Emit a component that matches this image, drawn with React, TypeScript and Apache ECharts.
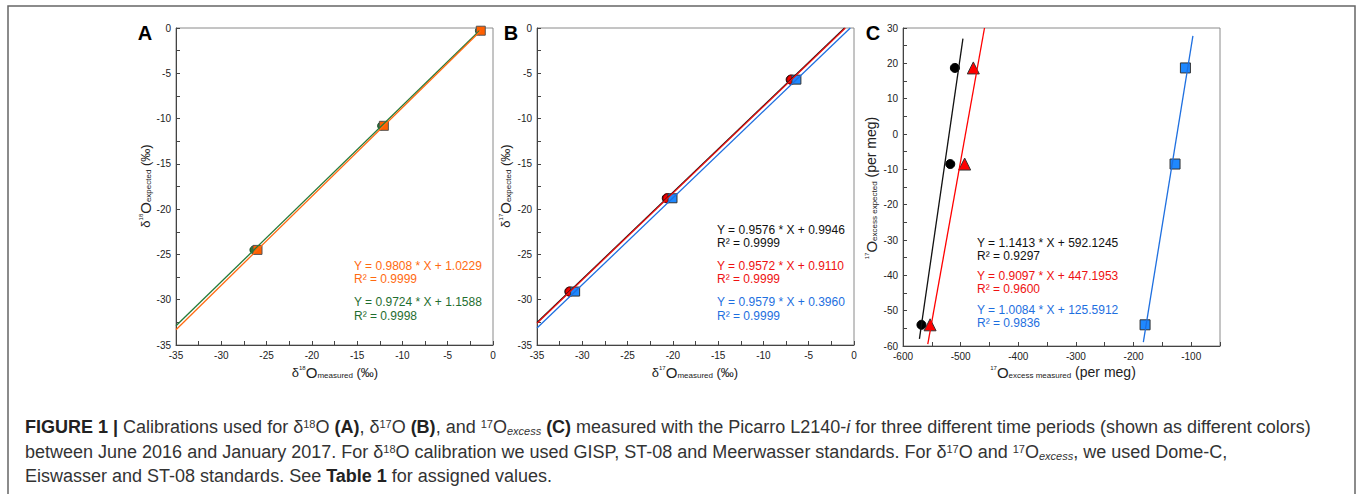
import React, { useEffect, useRef } from "react";
import * as echarts from "echarts";

// ---------- data ----------
// Panel A (δ18O)
const aOrangePts = [[-1.35, -0.3], [-12.05, -10.8], [-26.0, -24.5]];
const aGreenPts = [[-1.5, -0.3], [-12.3, -10.8], [-26.4, -24.5]];
const aOrangeLine = [[-35, -33.31], [-1.35, -0.3]];
const aGreenLine = [[-35, -32.88], [-1.5, -0.3]];
// Panel B (δ17O)
const bBlackPts = [[-6.99, -5.7], [-20.67, -18.8], [-31.43, -29.1]];
const bRedPts = [[-6.91, -5.7], [-20.59, -18.8], [-31.35, -29.1]];
const bBluePts = [[-6.36, -5.7], [-20.04, -18.8], [-30.79, -29.1]];
const bBlackLine = [[-35, -32.52], [-1.04, 0]];
const bRedLine = [[-35, -32.59], [-0.95, 0]];
const bBlueLine = [[-35, -33.13], [-0.41, 0]];
// Panel C (17O excess)
const cBlackPts = [[-568, -54], [-518, -8.5], [-510, 18.7]];
const cRedPts = [[-553, -54], [-493, -8.5], [-478, 18.7]];
const cBluePts = [[-180, -54], [-128, -8.5], [-110, 18.7]];
const cBlackLine = [[-571.5, -58], [-496, 27]];
const cRedLine = [[-557, -59.5], [-458.6, 30]];
const cBlueLine = [[-183, -58.9], [-97, 27.8]];

const aEquations = ["Y = 0.9808 * X + 1.0229", "R² = 0.9999", "Y = 0.9724 * X + 1.1588", "R² = 0.9998"];
const bEquations = ["Y = 0.9576 * X + 0.9946", "R² = 0.9999", "Y = 0.9572 * X + 0.9110", "R² = 0.9999", "Y = 0.9579 * X + 0.3960", "R² = 0.9999"];
const cEquations = ["Y = 1.1413 * X + 592.1245", "R² = 0.9297", "Y = 0.9097 * X + 447.1953", "R² = 0.9600", "Y = 1.0084 * X + 125.5912", "R² = 0.9836"];

const captionLines = [
  "{b|FIGURE 1 |} Calibrations used for δ{sup|18}O {b|(A)}, δ{sup|17}O {b|(B)}, and {sup|17}O{subi|excess} {b|(C)} measured with the Picarro L2140-{i|i} for three different time periods (shown as different colors)",
  "between June 2016 and January 2017. For δ{sup|18}O calibration we used GISP, ST-08 and Meerwasser standards. For δ{sup|17}O and {sup|17}O{subi|excess}, we used Dome-C,",
  "Eiswasser and ST-08 standards. See {b|Table 1} for assigned values.",
];

const ORANGE = "#ff6a10";
const GREEN = "#1f6e30";
const RED = "#ee1111";
const BLUE = "#1e6fe0";
const BLACK = "#111111";
const FONT = "Liberation Sans, Arial, sans-serif";
const CAP = 18;

export default function App() {
  const ref = useRef<HTMLDivElement>(null);
  useEffect(() => {
    if (!ref.current) return;
    const chart = echarts.init(ref.current, undefined, { renderer: "svg" });

    const grids = [
      { left: 176, top: 28, width: 317, height: 317 },
      { left: 537, top: 28, width: 317, height: 317 },
      { left: 903, top: 28, width: 317, height: 318 },
    ].map((g) => ({ ...g, show: true, borderColor: "#8a8a8a", borderWidth: 1, backgroundColor: "transparent" }));

    const axisCommon = (min: number, max: number, interval: number, labelStep: number, gridIndex: number) => ({
      type: "value",
      gridIndex,
      min,
      max,
      interval,
      splitLine: { show: false },
      axisLine: { show: true, onZero: false, lineStyle: { color: "#444", width: 1 } },
      axisTick: { show: true, inside: true, length: 4, lineStyle: { color: "#444" } },
      axisLabel: {
        fontSize: 10,
        color: "#222",
        fontFamily: FONT,
        margin: 5,
        formatter: (v: number) => (Math.abs(v % labelStep) < 1e-9 ? String(v) : ""),
      },
    });

    const xAxis = [axisCommon(-35, 0, 2.5, 5, 0), axisCommon(-35, 0, 2.5, 5, 1), axisCommon(-600, -50, 50, 100, 2)];
    const yAxis = [axisCommon(-35, 0, 2.5, 5, 0), axisCommon(-35, 0, 2.5, 5, 1), axisCommon(-60, 30, 5, 10, 2)];

    const line = (data: number[][], color: string, idx: number) => ({
      type: "line",
      xAxisIndex: idx,
      yAxisIndex: idx,
      data,
      symbol: "none",
      clip: true,
      lineStyle: { color, width: 1.3 },
      silent: true,
    });
    const pts = (data: number[][], color: string, symbol: string, size: number, border: string, idx: number) => ({
      type: "scatter",
      xAxisIndex: idx,
      yAxisIndex: idx,
      data,
      symbol,
      symbolSize: size,
      itemStyle: { color, borderColor: border, borderWidth: 1, opacity: 1 },
      silent: true,
    });

    const series = [
      line(aGreenLine, "#267a38", 0),
      line(aOrangeLine, ORANGE, 0),
      pts(aGreenPts, "#2a7a3a", "circle", 8, "#1a4a25", 0),
      pts(aOrangePts, "#ff5f00", "rect", 9, "#555", 0),
      line(bBlueLine, BLUE, 1),
      line(bBlackLine, BLACK, 1),
      line(bRedLine, RED, 1),
      pts(bBlackPts, "#000", "circle", 9, "#000", 1),
      pts(bRedPts, "#ee0000", "circle", 9, "#880000", 1),
      pts(bBluePts, "#1e88ff", "rect", 9, "#333", 1),
      line(cBlackLine, BLACK, 2),
      line(cRedLine, "#ff0000", 2),
      line(cBlueLine, BLUE, 2),
      pts(cBlackPts, "#000", "circle", 9, "#000", 2),
      pts(cRedPts, "#ff0000", "triangle", 12, "#333", 2),
      pts(cBluePts, "#1e88ff", "rect", 10, "#333", 2),
    ];

    const axisRich = {
      d: { fontSize: 13, fontFamily: FONT, fill: "#222" },
      o: { fontSize: 15, fontFamily: FONT, fill: "#222" },
      sup: { fontSize: 6, fontFamily: FONT, fill: "#222", verticalAlign: "top" },
      sub: { fontSize: 8, fontFamily: FONT, fill: "#222", verticalAlign: "bottom" },
      n: { fontSize: 13, fontFamily: FONT, fill: "#222" },
      p: { fontSize: 14, fontFamily: FONT, fill: "#222" },
    };
    const axisName = (text: string, x: number, y: number, rotate: boolean) => ({
      type: "text",
      x,
      y,
      rotation: rotate ? Math.PI / 2 : 0,
      style: { text, rich: axisRich, align: "center", verticalAlign: "middle", fontFamily: FONT, fontSize: 13, fill: "#222" },
    });

    const eqTexts = (lines: string[], colors: string[], x: number, ys: number[]) =>
      lines.map((t, i) => ({
        type: "text",
        x,
        y: ys[i],
        style: { text: t, fill: colors[i], fontSize: 12, fontFamily: FONT, align: "left", verticalAlign: "middle" },
      }));

    const letter = (t: string, x: number, y: number) => ({
      type: "text",
      x,
      y,
      style: { text: t, fontSize: 20, fontWeight: "bold", fontFamily: FONT, fill: "#000", align: "center", verticalAlign: "middle" },
    });

    const capRich = {
      b: { fontSize: CAP, fontWeight: "bold", fontFamily: FONT, fill: "#222" },
      sup: { fontSize: 11, fontFamily: FONT, fill: "#333", verticalAlign: "top" },
      subi: { fontSize: 11, fontStyle: "italic", fontFamily: FONT, fill: "#333", verticalAlign: "bottom" },
      i: { fontSize: CAP, fontStyle: "italic", fontFamily: FONT, fill: "#333" },
    };
    const captionY = [427, 452, 476];
    const caption = captionLines.map((t, i) => ({
      type: "text",
      x: 25,
      y: captionY[i],
      style: { text: t, rich: capRich, fontSize: CAP, fontFamily: FONT, fill: "#333", align: "left", verticalAlign: "middle" },
    }));

    const graphic = [
      {
        type: "rect",
        shape: { x: 8, y: 6, width: 1347, height: 520 },
        style: { fill: "none", stroke: "#666", lineWidth: 1.5 },
        silent: true,
      },
      letter("A", 145, 33),
      letter("B", 511, 33),
      letter("C", 873, 33),
      axisName("{d|δ}{sup|18}{o|O}{sub|measured}{n| (‰)}", 335, 372, false),
      axisName("{d|δ}{sup|18}{o|O}{sub|expected}{n| (‰)}", 145, 186, true),
      axisName("{d|δ}{sup|17}{o|O}{sub|measured}{n| (‰)}", 695, 372, false),
      axisName("{d|δ}{sup|17}{o|O}{sub|expected}{n| (‰)}", 505, 186, true),
      axisName("{sup|17}{o|O}{sub|excess measured}{p| (per meg)}", 1063, 372, false),
      axisName("{sup|17}{o|O}{sub|excess expected}{p| (per meg)}", 871, 188, true),
      ...eqTexts(aEquations, [ORANGE, ORANGE, GREEN, GREEN], 354, [266, 279, 302, 316]),
      ...eqTexts(bEquations, [BLACK, BLACK, RED, RED, BLUE, BLUE], 717, [230, 243, 266, 279, 302, 316]),
      ...eqTexts(cEquations, [BLACK, BLACK, RED, RED, BLUE, BLUE], 977, [243, 256, 276, 289, 310, 323]),
      ...caption,
    ];

    chart.setOption({
      animation: false,
      backgroundColor: "#ffffff",
      grid: grids,
      xAxis,
      yAxis,
      series,
      graphic,
    });
    return () => chart.dispose();
  }, []);

  return <div ref={ref} style={{ position: "fixed", left: 0, top: 0, width: 1360, height: 494 }} />;
}
